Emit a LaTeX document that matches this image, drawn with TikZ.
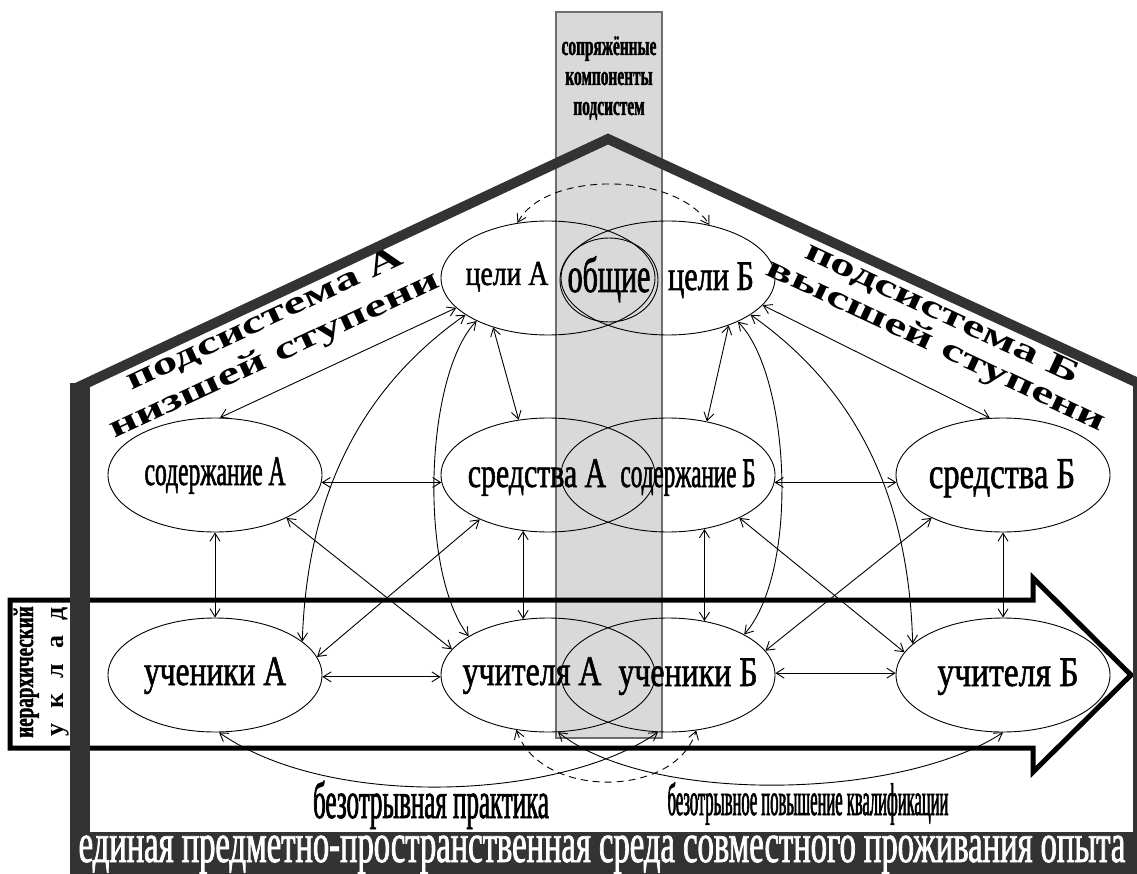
\documentclass[tikz,border=0pt]{standalone}
\usepackage{fontspec}
\setmainfont{Liberation Serif}
\usetikzlibrary{arrows.meta,shapes.geometric}
\newcommand\tf[3]{{\fontspec{Liberation Serif}[FakeStretch=#1,FakeBold=1.3]\fontsize{#2}{#2}\selectfont #3}}
\newcommand\tfr[3]{{\fontspec{Liberation Serif}[FakeStretch=#1]\fontsize{#2}{#2}\selectfont #3}}
\definecolor{housecol}{RGB}{51,51,51}
\definecolor{boxgray}{RGB}{217,217,217}
\definecolor{boxedge}{RGB}{110,110,110}
\tikzset{
  ell/.style={draw, ellipse, line width=0.9pt, minimum width=214pt, minimum height=114pt, inner sep=0pt},
  link/.style={{Straight Barb[length=8pt,width=10pt]}-{Straight Barb[length=8pt,width=10pt]}, line width=0.9pt},
  dlink/.style={link, dash pattern=on 7pt off 5pt},
  lbl/.style={anchor=base, inner sep=0pt},
}
\begin{document}
\begin{tikzpicture}[x=1pt,y=-1pt]
\useasboundingbox[fill=white] (0,0) rectangle (1137,874);
% grey column
\filldraw[fill=boxgray, draw=boxedge, line width=1.5pt] (556,12) rectangle (662,738);
% big arrow
\draw[line width=5pt, line join=miter, miter limit=4] (10,600) -- (1033,600) -- (1033,578) -- (1131,675) -- (1033,772) -- (1033,748) -- (10,748) -- cycle;
% house
\fill[housecol] (70,383) rectangle (90,836);
\draw[housecol, line width=10pt, line join=miter] (72,390) -- (608,139) -- (1138,383) -- (1138,840);
\fill[housecol] (70,832) rectangle (1137,874);
% ellipses
\node[ell] (eCA) at (548,278) {};
\node[ell] (eCB) at (668,278) {};
\node[draw, ellipse, line width=0.9pt, minimum width=98pt, minimum height=84pt, inner sep=0pt] (eOb) at (609,280) {};
\node[ell] (eSA) at (215,475) {};
\node[ell] (eSrA) at (548,475) {};
\node[ell] (eSB) at (668,475) {};
\node[ell] (eSrB) at (1003,475) {};
\node[ell] (eUA) at (215,675) {};
\node[ell] (eUchA) at (548,675) {};
\node[ell] (eUB) at (668,675) {};
\node[ell] (eUchB) at (1003,675) {};
% links left
\draw[link] (eCA.198) -- (eSA.85);
\draw[link] (eCA.222) -- (eSrA.118);
\draw[link] (eCA.204) .. controls (380,375) and (308,470) .. (eUA.21);
\draw[link] (eCA.211) .. controls (425,375) and (418,570) .. (eUchA.154);
\draw[link] (eSA.-4) -- (eSrA.184);
\draw[link] (eSA.south) -- (eUA.north);
\draw[link] (eSA.-31) -- (eUchA.165);
\draw[link] (eSrA.213) -- (eUA.10);
\draw[link] (eSrA.246) -- (eUchA.114);
\draw[link] (eUA.-1) -- (eUchA.181);
% links right
\draw[link] (eCB.-38) -- (eSB.54);
\draw[link] (eCB.-16) -- (eSrB.103);
\draw[link] (eCB.-32) .. controls (790,375) and (800,570) .. (eUB.28);
\draw[link] (eCB.-24) .. controls (836,375) and (908,470) .. (eUchB.161);
\draw[link] (eSB.-4) -- (eSrB.184);
\draw[link] (eSB.-56) -- (eUB.56);
\draw[link] (eSB.-31) -- (eUchB.167);
\draw[link] (eSrB.211) -- (eUB.14);
\draw[link] (eSrB.south) -- (eUchB.north);
\draw[link] (eUB.1) -- (eUchB.179);
% dashed and bottom arcs
\draw[dlink] (eCA.119) .. controls (545,171) and (675,171) .. (eCB.52);
\draw[dlink] (eUchA.240) .. controls (540,799) and (675,799) .. (eUB.297);
\draw[link] (eUA.-86) .. controls (330,810) and (560,800) .. (eUB.260);
\draw[link] (eUchA.-80) .. controls (650,805) and (900,800) .. (eUchB.-90);
% labels
\node[lbl] (tCA) at (507,285) {\tf{0.79}{35}{цели А}};
\node[lbl] (tOb) at (609,292) {\tf{0.6}{50}{общие}};
\node[lbl] (tCB) at (711,290) {\tf{0.72}{42}{цели Б}};
\node[lbl] (tSA) at (215,485) {\tf{0.56}{42}{содержание А}};
\node[lbl] (tSrA) at (537,487) {\tf{0.71}{42}{средства А}};
\node[lbl] (tSB) at (688,487) {\tf{0.55}{42}{содержание Б}};
\node[lbl] (tSrB) at (1002,488) {\tf{0.74}{44}{средства Б}};
\node[lbl] (tUA) at (215,685) {\tf{0.75}{42}{ученики А}};
\node[lbl] (tUchA) at (532,685) {\tf{0.76}{42}{учителя А}};
\node[lbl] (tUB) at (688,686) {\tf{0.76}{42}{ученики Б}};
\node[lbl] (tUchB) at (1008,686) {\tf{0.8}{42}{учителя Б}};
% column caption
\node[lbl] (box1) at (609,55) {\tf{0.55}{28}{\bfseries сопряжённые}};
\node[lbl] (box2) at (609,85) {\tf{0.55}{28}{\bfseries компоненты}};
\node[lbl] (box3) at (609,115) {\tf{0.55}{28}{\bfseries подсистем}};
% roof captions
\node[rotate=25] (roofA1) at (265,320) {\tfr{1.55}{32}{\bfseries подсистема А}};
\node[rotate=25] (roofA2) at (275,356) {\tfr{1.55}{32}{\bfseries низшей ступени}};
\node[rotate=-25] (roofB1) at (942,314) {\tfr{1.55}{32}{\bfseries подсистема Б}};
\node[rotate=-25] (roofB2) at (936,346) {\tfr{1.55}{32}{\bfseries высшей ступени}};
% hierarchy caption
\node[rotate=90, lbl] (hier1) at (33,672) {\tf{0.68}{28}{\bfseries иерархический}};
\node[rotate=90, lbl] (hier2) at (63,672) {\tfr{1}{26}{\bfseries\makebox[129pt][s]{у к л а д}}};
% bottom captions
\node[lbl] (prac) at (431,818) {\tf{0.48}{52}{безотрывная практика}};
\node[lbl] (qual) at (808,815) {\tf{0.36}{46}{безотрывное повышение квалификации}};
\node[lbl, text=white] (band) at (602,862) {\tf{0.582}{56}{единая предметно-пространственная среда совместного проживания опыта}};
\end{tikzpicture}
\end{document}
